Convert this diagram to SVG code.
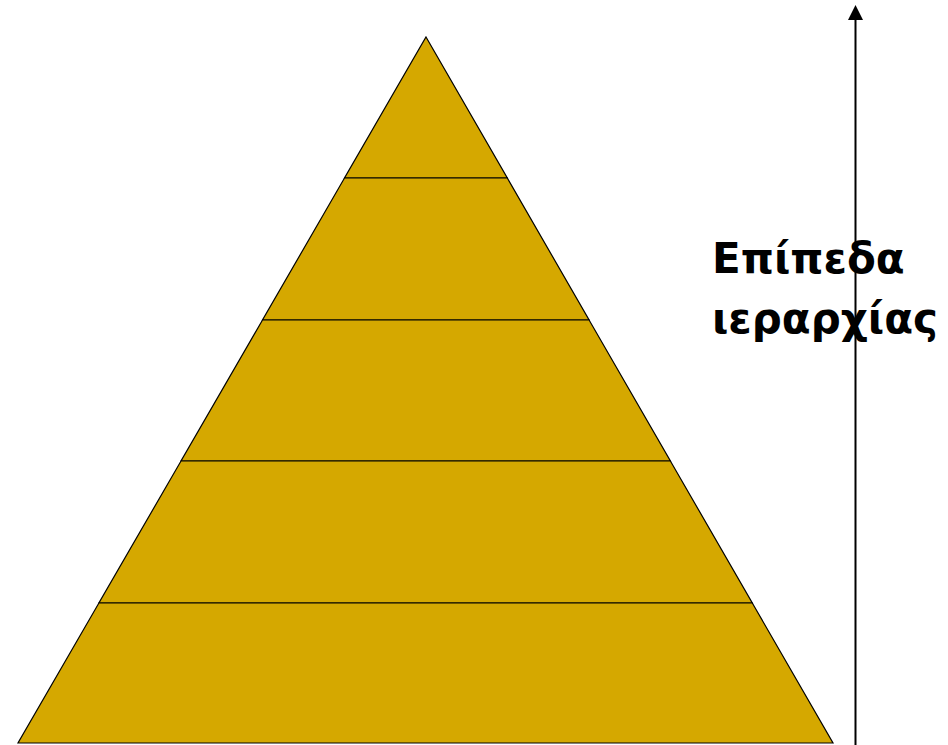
<svg xmlns="http://www.w3.org/2000/svg" width="948" height="745" viewBox="0 0 948 745">
<style>
.layer{fill:#D5A800;stroke:#000;stroke-width:1.2;stroke-linejoin:miter}
.lbl{font-family:"DejaVu Sans","Liberation Sans",sans-serif;font-weight:bold;font-size:42px;fill:#000}
</style>
<rect width="948" height="745" fill="#fff"/>
<g id="layer1"><polygon class="layer" points="426,37 507.3,178 344.5,178"/></g>
<g id="layer2"><polygon class="layer" points="344.5,178 507.3,178 589.1,320 262.5,320"/></g>
<g id="layer3"><polygon class="layer" points="262.5,320 589.1,320 670.4,461 181,461"/></g>
<g id="layer4"><polygon class="layer" points="181,461 670.4,461 752.3,603 98.9,603"/></g>
<g id="layer5"><polygon class="layer" points="98.9,603 752.3,603 833,743 18,743"/></g>
<g id="connectors">
<line x1="855.5" y1="745" x2="855.5" y2="20" stroke="#000" stroke-width="2"/>
<polygon points="855.5,5 848,20 863,20" fill="#000"/>
</g>
<g id="label">
<text class="lbl" x="712" y="273">Επίπεδα</text>
<text class="lbl" x="712" y="333">ιεραρχίας</text>
</g>
</svg>
